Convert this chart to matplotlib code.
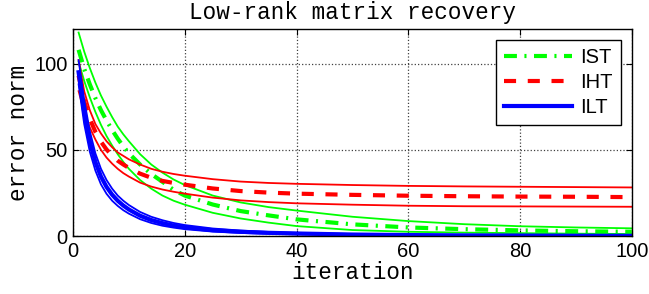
import matplotlib
matplotlib.use("Agg")
import matplotlib.pyplot as plt

iters = [1, 2, 3, 4, 5, 6, 7, 8, 9, 10, 12, 14, 16, 18, 20, 25, 30, 35, 40, 50, 60, 70, 80, 90, 100]

# IST (green): mean and envelope
ist_mean = [108, 97, 88, 80, 73, 67, 61.5, 56.5, 52, 48, 41.5, 36, 31.5, 26.8, 23.5,
            18.3, 14.5, 12, 9.7, 6.8, 5, 4, 3.3, 2.8, 2.5]
ist_hi = [118, 107, 97.5, 89, 81.5, 75, 69, 63.5, 59, 55, 47.5, 41.5, 36.8, 32.8, 29.6,
          23.5, 19.5, 16.8, 14.8, 11.2, 8.7, 6.9, 5.7, 5, 4.5]
ist_lo = [101, 90, 80.5, 72, 64.5, 58, 52.5, 47.5, 43, 39, 32.5, 27.5, 23.5, 20.5, 18.2,
          13.5, 10.2, 7.8, 5.8, 3.5, 2.5, 2, 1.7, 1.4, 1.2]

# IHT (red)
iht_mean = [93, 78, 68, 60.5, 54.7, 50.2, 46.7, 43.7, 41.5, 39.5, 36.2, 33.8, 32, 30.8, 29.8,
            27.6, 26.1, 25.2, 24.6, 23.9, 23.4, 23.1, 22.9, 22.8, 22.6]
iht_hi = [102, 84, 73, 65, 59.5, 55, 51.5, 48.5, 46.5, 44.5, 41.5, 39, 37.3, 36, 35,
          33, 31.6, 30.8, 30.3, 29.6, 29.1, 28.8, 28.6, 28.4, 28.2]
iht_lo = [84, 72, 63, 56, 50, 45.5, 42, 39, 36.5, 34.5, 31, 28.7, 27, 25.7, 24.6,
          22.3, 20.7, 19.7, 19, 18.2, 17.6, 17.3, 17.2, 17.1, 17]

# ILT (blue)
ilt_mean = [95, 72, 55, 43, 34.5, 28.5, 24, 20.5, 17.7, 15.4, 11.8, 9.3, 7.5, 6.1, 5.1,
            3.4, 2.5, 1.9, 1.5, 0.9, 0.6, 0.4, 0.3, 0.2, 0.15]
ilt_hi = [102, 79, 61, 48, 39, 32.5, 27.5, 23.5, 20.5, 18, 14, 11.2, 9.2, 7.6, 6.4,
          4.4, 3.2, 2.4, 1.9, 1.2, 0.8, 0.55, 0.4, 0.3, 0.2]
ilt_lo = [88, 65, 49, 38, 30, 24.5, 20.5, 17.5, 15, 13, 9.8, 7.6, 6, 4.9, 4,
          2.6, 1.8, 1.3, 1, 0.6, 0.4, 0.25, 0.2, 0.1, 0.1]

xticks = [0, 20, 40, 60, 80, 100]
yticks = [0, 50, 100]

mono = "Liberation Mono"
sans = "Liberation Sans"

fig = plt.figure(figsize=(6.49, 2.94), dpi=100)
ax = fig.add_axes([0.1125, 0.197, 0.861, 0.704])

thin = 1.3
thick = 3.0
dashdot = (0, (3.1, 1.8, 0.5, 1.8))
dashed = (0, (2.9, 2.8))

ax.plot(iters, ist_hi, color=(0, 1, 0), lw=thin)
ax.plot(iters, ist_lo, color=(0, 1, 0), lw=thin)
ax.plot(iters, ist_mean, color=(0, 1, 0), lw=thick, ls=dashdot, label="IST")

ax.plot(iters, iht_hi, color=(1, 0, 0), lw=thin)
ax.plot(iters, iht_lo, color=(1, 0, 0), lw=thin)
ax.plot(iters, iht_mean, color=(1, 0, 0), lw=thick, ls=dashed, label="IHT")

ax.plot(iters, ilt_hi, color=(0, 0, 1), lw=thin)
ax.plot(iters, ilt_lo, color=(0, 0, 1), lw=thin)
ax.plot(iters, ilt_mean, color=(0, 0, 1), lw=thick, label="ILT")

ax.set_xlim(0, 100)
ax.set_ylim(0, 120)
ax.set_xticks(xticks)
ax.set_yticks(yticks)
ax.grid(True, ls=":", color="0.25", lw=0.9)
ax.tick_params(direction="in", top=True, right=True, length=4, width=0.8,
               labelsize=14.5, pad=4)
for lab in ax.get_xticklabels() + ax.get_yticklabels():
    lab.set_fontfamily(sans)
for sp in ax.spines.values():
    sp.set_linewidth(1.0)

ax.set_title("Low-rank matrix recovery", fontfamily=mono, fontsize=16.3, pad=7)
ax.set_xlabel("iteration", fontfamily=mono, fontsize=16.3, labelpad=0)
ax.set_ylabel("error norm", fontfamily=mono, fontsize=16.3, labelpad=3)

leg = ax.legend(loc="upper right", prop={"family": sans, "size": 14.5},
                fancybox=False, edgecolor="black", framealpha=1,
                handlelength=3.4, handletextpad=0.4, borderpad=0.4,
                labelspacing=0.3, borderaxespad=0.55)
leg.get_frame().set_linewidth(1.0)

fig.savefig("out.png", dpi=100)
